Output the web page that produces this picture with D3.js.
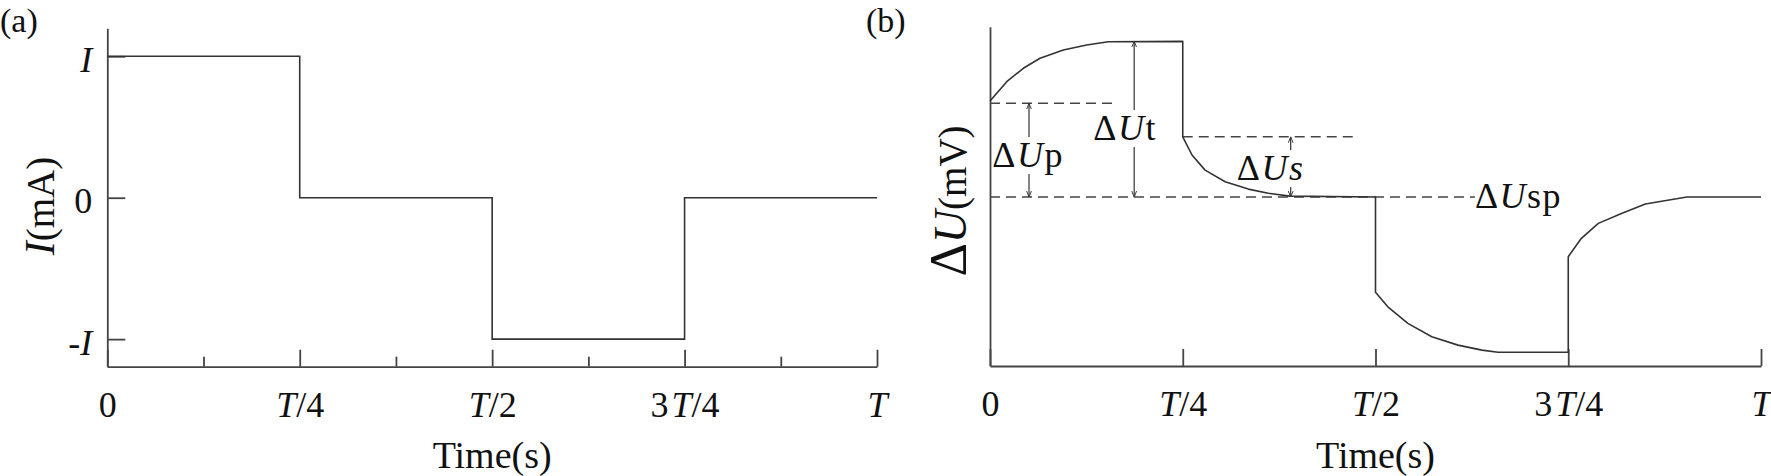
<!DOCTYPE html>
<html><head><meta charset="utf-8">
<script src="https://cdn.jsdelivr.net/npm/d3@7"></script>
<style>
body{margin:0;background:#fff}
svg{display:block;font-family:"Liberation Serif","Times New Roman",serif}
</style></head><body>
<svg id="c" width="1771" height="476"></svg>
<script>
// ---------------- data ----------------
const quarterTicks = [0, 0.25, 0.5, 0.75, 1];
const quarterLabels = ["0", "T/4", "T/2", "3T/4", "T"];
const minorTicks = [0.125, 0.375, 0.625, 0.875];

// panel (a): square-wave current (fraction of period, multiples of I)
const currentTime  = [0, 0.25, 0.25, 0.5, 0.5, 0.75, 0.75, 1];
const currentLevel = [1, 1, 0, 0, -1, -1, 0, 0];
const currentTicks = [1, 0, -1];
const currentTickLabels = ["I", "0", "-I"];

// panel (b): voltage response (normalised so that ΔUt = 1)
const voltTime = [0, 0.0217, 0.0432, 0.0649, 0.0951, 0.1254, 0.1534, 0.25,
                  0.25, 0.262, 0.279, 0.305, 0.335, 0.361, 0.389, 0.5,
                  0.5, 0.516, 0.542, 0.573, 0.607, 0.638, 0.659, 0.75,
                  0.75, 0.767, 0.789, 0.819, 0.85, 0.875, 0.904, 1.0];
const voltValue = [0.617, 0.741, 0.827, 0.891, 0.944, 0.976, 0.997, 1.0,
                   0.387, 0.270, 0.173, 0.098, 0.051, 0.024, 0.006, 0,
                   -0.612, -0.705, -0.811, -0.897, -0.951, -0.983, -0.997, -0.997,
                   -0.383, -0.265, -0.169, -0.105, -0.045, -0.024, 0, 0];
const voltTicks = [0, 0.25, 0.5, 0.75, 1];

// reference (dashed) levels
const refLevel = [0.602, 0.387, 0];
const refStart = [0, 0.25, 0];
const refEnd   = [0.166, 0.473, 0.629];

// double arrows
const arrowTime   = [0.0506, 0.187, 0.39];
const arrowTop    = [0.602, 1.0, 0.387];
const arrowBottom = [0, 0, 0];

// annotation labels
const annotParts = [["Δ", "U", "p"], ["Δ", "U", "t"], ["Δ", "U", "s"], ["Δ", "U", "sp"]];
const annotItalic = [[0,1,0],[0,1,0],[0,1,1],[0,1,0]];
const annotTime  = [0.003, 0.134, 0.32, 0.629];
const annotValue = [0.193, 0.366, 0.109, -0.071];

// ---------------- drawing ----------------
const FONT = '"Liberation Serif","Times New Roman",serif';
const AX = "#444", LN = "#333";
const svg = d3.select("#c");
const defs = svg.append("defs");
defs.append("marker").attr("id","arr")
  .attr("viewBox","0 0 10 10").attr("refX",10).attr("refY",5)
  .attr("markerWidth",6).attr("markerHeight",6).attr("markerUnits","userSpaceOnUse")
  .attr("orient","auto-start-reverse")
  .append("path").attr("d","M0,1 L10,5 L0,9").attr("fill","none")
  .attr("stroke",LN).attr("stroke-width",1.6);

function richTick(sel, str) {
  sel.text(null);
  const parts = str.split(/(T|I)/).filter(s => s !== "");
  parts.forEach((p, i) => {
    const t = sel.append("tspan").text(p);
    if (p === "T" || p === "I") t.attr("font-style","italic");
    if (p === "T" && i > 0 && parts[i-1] === "3") t.attr("dx", 3);
  });
}

function styleAxis(g) {
  g.attr("font-family", FONT).attr("font-size", 36).attr("color", AX);
  g.selectAll("path,line").attr("stroke-width", 1.8);
  g.selectAll("text").attr("fill", "#111");
}

function xAxes(x, y0, ticks, labels, minor) {
  const g = svg.append("g").attr("transform", `translate(0,${y0})`)
    .call(d3.axisBottom(x).tickValues(ticks).tickSize(-17).tickSizeOuter(0)
      .tickFormat((d,i) => labels[i]));
  styleAxis(g);
  g.selectAll(".tick text").attr("y", 50).attr("dy", 0)
    .each(function(d,i){ richTick(d3.select(this), labels[i]); });
  if (minor) {
    const m = svg.append("g").attr("transform", `translate(0,${y0})`)
      .call(d3.axisBottom(x).tickValues(minor).tickSize(-10).tickFormat(""));
    styleAxis(m);
    m.select(".domain").remove();
  }
}

// ---- Panel (a) ----
const xA = d3.scaleLinear().domain([0, 1]).range([107.3, 877]);
const yA = d3.scaleLinear().domain([-1.195, 1.198]).range([366.7, 28.3]);

xAxes(xA, 366.7, quarterTicks, quarterLabels, minorTicks);
const gyA = svg.append("g").attr("transform", `translate(${xA(0)},0)`)
  .call(d3.axisLeft(yA).tickValues(currentTicks).tickSize(-18).tickSizeOuter(0).tickPadding(15)
    .tickFormat((d,i) => currentTickLabels[i]));
styleAxis(gyA);
gyA.selectAll(".tick text").attr("dy", "0.42em")
  .each(function(d,i){ richTick(d3.select(this), currentTickLabels[i]); });

svg.append("path")
  .attr("d", d3.line().x((d,i) => xA(currentTime[i])).y((d,i) => yA(currentLevel[i]))(currentTime))
  .attr("fill","none").attr("stroke",LN).attr("stroke-width",1.6);

svg.append("text").attr("x", 0).attr("y", 32).attr("font-size", 34).attr("fill","#111").text("(a)");
svg.append("text").attr("x", (xA.range()[0]+xA.range()[1])/2).attr("y", 468)
  .attr("text-anchor","middle").attr("font-size", 38).attr("fill","#111").text("Time(s)");
const ylA = svg.append("text").attr("transform","translate(54,206) rotate(-90)")
  .attr("text-anchor","middle").attr("fill","#111");
ylA.append("tspan").attr("font-size", 42).attr("font-style","italic").text("I");
ylA.append("tspan").attr("font-size", 39).text("(mA)");

// ---- Panel (b) ----
const xB = d3.scaleLinear().domain([0, 1]).range([990, 1761]);
const yB = d3.scaleLinear().domain([-1.085, 1.094]).range([366, 26.7]);

xAxes(xB, 366, voltTicks, quarterLabels, null);
const gyB = svg.append("g").attr("transform", `translate(${xB(0)},0)`)
  .call(d3.axisLeft(yB).tickValues([]).tickSizeOuter(0));
styleAxis(gyB);

// dashed reference lines
svg.append("g").selectAll("line").data(refLevel).join("line")
  .attr("x1", (d,i) => xB(refStart[i])).attr("x2", (d,i) => xB(refEnd[i]))
  .attr("y1", d => yB(d)).attr("y2", d => yB(d))
  .attr("stroke", AX).attr("stroke-width", 1.5).attr("stroke-dasharray", "10,6");

// arrows
svg.append("g").selectAll("line").data(arrowTime).join("line")
  .attr("x1", d => xB(d)).attr("x2", d => xB(d))
  .attr("y1", (d,i) => yB(arrowBottom[i])).attr("y2", (d,i) => yB(arrowTop[i]))
  .attr("stroke", LN).attr("stroke-width", 1.2)
  .attr("marker-start","url(#arr)").attr("marker-end","url(#arr)");

// annotation labels with white knockout
const ann = svg.append("g");
annotParts.forEach((parts, k) => {
  const g = ann.append("g");
  const t = g.append("text").attr("x", xB(annotTime[k])).attr("y", yB(annotValue[k]))
    .attr("font-size", 36).attr("letter-spacing", 1.5).attr("fill","#111");
  parts.forEach((p, j) => {
    const s = t.append("tspan").text(p);
    if (annotItalic[k][j]) s.attr("font-style","italic");
  });
  if (k < 3) {
    const b = t.node().getBBox();
    g.insert("rect","text").attr("x", b.x).attr("y", b.y + 2).attr("width", b.width).attr("height", b.height - 3)
      .attr("fill","#fff");
  }
});

// voltage curve
svg.append("path")
  .attr("d", d3.line().x((d,i) => xB(voltTime[i])).y((d,i) => yB(voltValue[i]))(voltTime))
  .attr("fill","none").attr("stroke",LN).attr("stroke-width",1.6).attr("stroke-linejoin","round");

svg.append("text").attr("x", 866).attr("y", 32).attr("font-size", 34).attr("fill","#111").text("(b)");
svg.append("text").attr("x", (xB.range()[0]+xB.range()[1])/2).attr("y", 468)
  .attr("text-anchor","middle").attr("font-size", 38).attr("fill","#111").text("Time(s)");
const ylB = svg.append("text").attr("transform","translate(966,201) rotate(-90)")
  .attr("text-anchor","middle").attr("fill","#111");
ylB.append("tspan").attr("font-size", 52).text("Δ");
ylB.append("tspan").attr("font-size", 46).attr("font-style","italic").text("U");
ylB.append("tspan").attr("font-size", 39).text("(mV)");
</script>
</body></html>
